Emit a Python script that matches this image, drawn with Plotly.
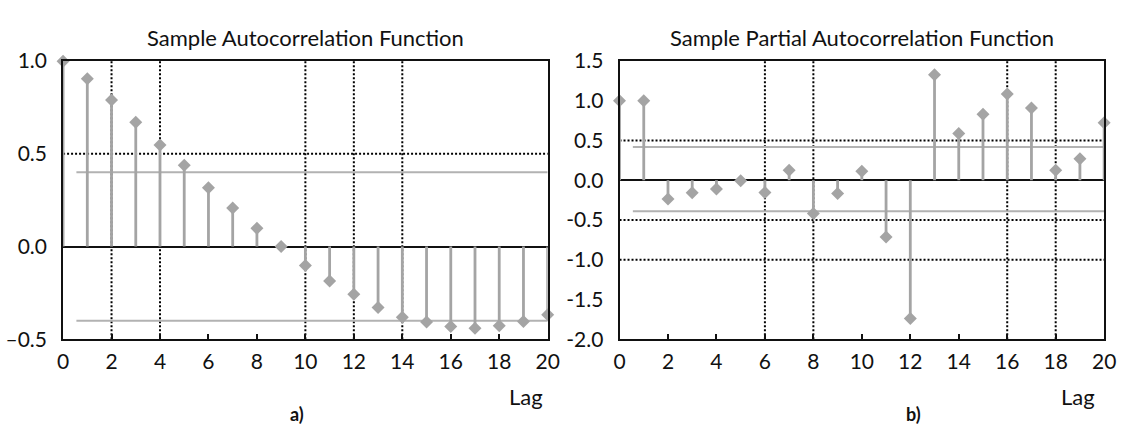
import plotly.graph_objects as go

# ---------------- data ----------------
lags = list(range(21))
acf_vals = [1.0, 0.905, 0.79, 0.67, 0.547, 0.439, 0.317, 0.208, 0.098, 0.0,
            -0.102, -0.186, -0.258, -0.329, -0.381, -0.407, -0.432, -0.441,
            -0.427, -0.405, -0.368]
pacf_vals = [1.0, 1.0, -0.236, -0.157, -0.11, -0.005, -0.154, 0.126, -0.417,
             -0.165, 0.114, -0.713, -1.74, 1.33, 0.59, 0.83, 1.087, 0.91,
             0.126, 0.27, 0.724]
acf_bounds = [0.40, -0.40]
pacf_bounds = [0.42, -0.39]
bound_start = 0.55

acf_yticks = [1.0, 0.5, 0.0, -0.5]
acf_yticktext = ["1.0", "0.5", "0.0", "\u20130.5"]
pacf_yticks = [1.5, 1.0, 0.5, 0.0, -0.5, -1.0, -1.5, -2.0]
pacf_yticktext = ["1.5", "1.0", "0.5", "0.0", "-0.5", "-1.0", "-1.5", "-2.0"]
xticks = list(range(0, 21, 2))

acf_grid_x = [2, 4, 10, 12, 14]
acf_grid_y = [0.5]
pacf_grid_x = [6, 8, 16, 18]
pacf_grid_y = [0.5, -0.5, -1.0]

titles = ["Sample Autocorrelation Function", "Sample Partial Autocorrelation Function"]
panel_labels = ["a)", "b)"]
xlabel = "Lag"

# ---------------- style ----------------
FONT = "Lato"
GRAY = "#a4a4a4"
W, H = 1125, 436
dom_a = [58 / W, 550.5 / W]
dom_b = [623.5 / W, 1116 / W]
dom_y = [1 - 345 / H, 1 - 50 / H]

fig = go.Figure()


def stems(xs, ys):
    sx, sy = [], []
    for x, y in zip(xs, ys):
        sx += [x, x, None]
        sy += [0, y, None]
    return sx, sy


panels = [
    ("x", "y", acf_vals, acf_bounds),
    ("x2", "y2", pacf_vals, pacf_bounds),
]
for xa, ya, vals, bounds in panels:
    for b in bounds:
        fig.add_trace(go.Scatter(x=[bound_start, lags[-1]], y=[b, b], mode="lines",
                                 xaxis=xa, yaxis=ya,
                                 line=dict(color="#b2b2b2", width=2),
                                 hoverinfo="skip", showlegend=False))
    sx, sy = stems(lags, vals)
    fig.add_trace(go.Scatter(x=sx, y=sy, mode="lines", xaxis=xa, yaxis=ya,
                             line=dict(color=GRAY, width=2.8),
                             hoverinfo="skip", showlegend=False))
    fig.add_trace(go.Scatter(x=lags, y=vals, mode="markers", xaxis=xa, yaxis=ya,
                             marker=dict(symbol="diamond", size=10, color=GRAY),
                             showlegend=False, cliponaxis=False))

# dotted grid lines
dot = dict(color="black", width=2, dash="2px,2px")
for xref, yref, gx, gy in [("x", "y", acf_grid_x, acf_grid_y),
                           ("x2", "y2", pacf_grid_x, pacf_grid_y)]:
    for v in gx:
        fig.add_shape(type="line", xref=xref, yref=yref + " domain", x0=v, x1=v,
                      y0=0, y1=1, line=dot, layer="below")
    for v in gy:
        fig.add_shape(type="line", xref=xref + " domain", yref=yref, x0=0, x1=1,
                      y0=v, y1=v, line=dot, layer="below")

axis_common = dict(showline=True, linecolor="#111111", linewidth=1.8, mirror=True,
                   showgrid=False, tickfont=dict(family=FONT, size=21, color="#111111"))

fig.update_layout(
    width=W, height=H,
    margin=dict(l=0, r=0, t=0, b=0),
    paper_bgcolor="white", plot_bgcolor="white",
    xaxis=dict(domain=dom_a, range=[0, 20], tickvals=xticks, ticks="inside",
               ticklen=5, tickwidth=1.8, tickcolor="#111111", zeroline=False,
               anchor="y", ticklabelstandoff=3, **axis_common),
    yaxis=dict(domain=dom_y, range=[-0.5, 1.0], tickvals=acf_yticks,
               ticktext=acf_yticktext, ticks="", zeroline=True,
               zerolinecolor="#111111", zerolinewidth=1.8, anchor="x",
               ticklabelstandoff=10, **axis_common),
    xaxis2=dict(domain=dom_b, range=[0, 20], tickvals=xticks, ticks="inside",
                ticklen=5, tickwidth=1.8, tickcolor="#111111", zeroline=False,
                anchor="y2", ticklabelstandoff=3, **axis_common),
    yaxis2=dict(domain=dom_y, range=[-2.0, 1.5], tickvals=pacf_yticks,
                ticktext=pacf_yticktext, ticks="", zeroline=True,
                zerolinecolor="#111111", zerolinewidth=1.8, anchor="x2",
                ticklabelstandoff=10, **axis_common),
)

for dom, title, lab, lagx, labx in [(dom_a, titles[0], panel_labels[0], 528, 296),
                                    (dom_b, titles[1], panel_labels[1], 1089, 922)]:
    fig.add_annotation(text=title, x=(dom[0] + dom[1]) / 2, y=1 - 25 / H,
                       xref="paper", yref="paper", showarrow=False,
                       xanchor="center", yanchor="middle",
                       font=dict(family=FONT, size=22, color="#111111"))
    fig.add_annotation(text=xlabel, x=lagx / W, y=1 - 406 / H, xref="paper",
                       yref="paper", showarrow=False, xanchor="center",
                       yanchor="middle", font=dict(family=FONT, size=22, color="#111111"))
    fig.add_annotation(text="<b>" + lab + "</b>", x=labx / W, y=1 - 424 / H,
                       xref="paper", yref="paper", showarrow=False,
                       xanchor="center", yanchor="middle",
                       font=dict(family=FONT, size=18, color="#111111"))

fig.write_html("out.html", config={"displayModeBar": False},
               post_script="document.body.style.margin='0';")
